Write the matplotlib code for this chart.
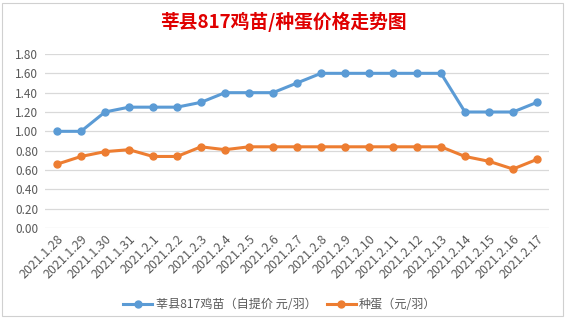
import matplotlib
matplotlib.use("Agg")
import matplotlib.pyplot as plt
from matplotlib.patches import Rectangle
from matplotlib.lines import Line2D

plt.rcParams['font.family'] = ['Noto Sans CJK SC', 'DejaVu Sans']

dates = ["2021.1.28", "2021.1.29", "2021.1.30", "2021.1.31", "2021.2.1", "2021.2.2",
         "2021.2.3", "2021.2.4", "2021.2.5", "2021.2.6", "2021.2.7", "2021.2.8",
         "2021.2.9", "2021.2.10", "2021.2.11", "2021.2.12", "2021.2.13", "2021.2.14",
         "2021.2.15", "2021.2.16", "2021.2.17"]
chick = [1.00, 1.00, 1.20, 1.25, 1.25, 1.25, 1.30, 1.40, 1.40, 1.40, 1.50, 1.60,
         1.60, 1.60, 1.60, 1.60, 1.60, 1.20, 1.20, 1.20, 1.30]
egg = [0.66, 0.74, 0.79, 0.81, 0.74, 0.74, 0.84, 0.81, 0.84, 0.84, 0.84, 0.84,
       0.84, 0.84, 0.84, 0.84, 0.84, 0.74, 0.69, 0.61, 0.71]
yticks = [0.0, 0.2, 0.4, 0.6, 0.8, 1.0, 1.2, 1.4, 1.6, 1.8]
series_names = ["莘县817鸡苗（自提价 元/羽）", "种蛋（元/羽）"]
title = "莘县817鸡苗/种蛋价格走势图"

W, H = 567, 328
fig = plt.figure(figsize=(W / 100, H / 100), dpi=100)
fig.patch.set_facecolor('white')

fig.patches.append(Rectangle((2 / W, 1 - 316 / H), 561 / W, 313 / H,
                             transform=fig.transFigure, fill=False,
                             edgecolor='#D0D0D0', lw=0.8))

ax = fig.add_axes([45 / W, 1 - 228 / H, 504 / W, 174 / H])
x = list(range(len(dates)))
blue = '#5B9BD5'
orange = '#ED7D31'
ax.plot(x, chick, color=blue, lw=2.2, marker='o', ms=5, zorder=3)
ax.plot(x, egg, color=orange, lw=2.2, marker='o', ms=5, zorder=3)

ax.set_xlim(-0.5, len(dates) - 0.5)
ax.set_ylim(0, 1.8)
ax.set_yticks(yticks)
ax.set_yticklabels([f"{v:.2f}" for v in yticks])
ax.set_xticks(x)
ax.set_xticklabels(dates, rotation=45, ha='right', va='top', rotation_mode='anchor')
ax.grid(axis='y', color='#D9D9D9', lw=0.9)
ax.set_axisbelow(True)
for s in ax.spines.values():
    s.set_visible(False)
ax.tick_params(axis='both', length=0, colors='#595959', labelsize=8.5)
ax.tick_params(axis='x', labelsize=9, pad=3)
ax.tick_params(axis='y', pad=5)

fig.text(283 / W, 1 - 22 / H, title, color='#E00000', fontsize=13.5,
         fontweight='bold', ha='center', va='center')

handles = [Line2D([0], [0], color=blue, lw=2.2, marker='o', ms=5),
           Line2D([0], [0], color=orange, lw=2.2, marker='o', ms=5)]
leg = fig.legend(handles, series_names, loc='center', bbox_to_anchor=(280 / W, 1 - 305 / H),
                 ncol=2, frameon=False, fontsize=8.7, handlelength=2.4,
                 columnspacing=0.8, handletextpad=0.3, borderpad=0)
for t in leg.get_texts():
    t.set_color('#595959')

fig.savefig('out.png', dpi=100)
